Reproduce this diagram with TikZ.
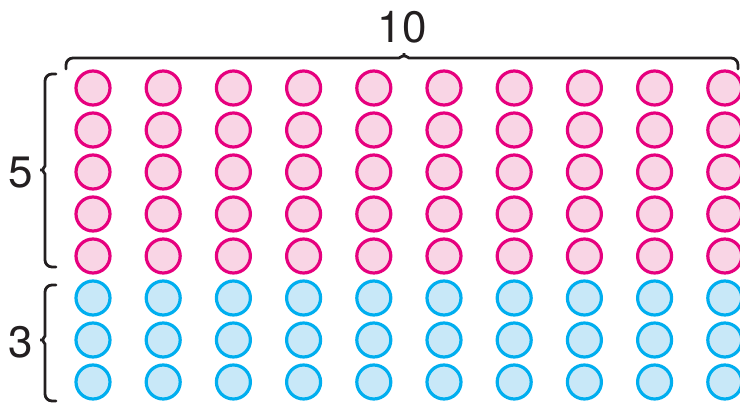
\documentclass[tikz,border=0pt]{standalone}
\usepackage{fontspec}
\setmainfont{TeX Gyre Heros}
\definecolor{pinkline}{HTML}{E6007E}
\definecolor{pinkfill}{HTML}{F9D5E5}
\definecolor{blueline}{HTML}{00AEEF}
\definecolor{bluefill}{HTML}{C8E8F8}
\definecolor{ink}{HTML}{231F20}
\begin{document}
\begin{tikzpicture}[x=1pt,y=-1pt,
  dot/.style={circle,minimum size=34pt,inner sep=0pt,line width=3.2pt},
  pinkdot/.style={dot,draw=pinkline,fill=pinkfill},
  bluedot/.style={dot,draw=blueline,fill=bluefill},
  bracepath/.style={draw=ink,line width=2.8pt,rounded corners=7pt,line cap=round},
  numlabel/.style={text=ink,inner sep=0pt,font=\fontsize{44}{44}\selectfont,anchor=base}]
\useasboundingbox (0,0) rectangle (740,403);
\foreach \i in {0,...,9}{
  \foreach \j in {0,...,4}{
    \node[pinkdot] (c-\i-\j) at ({93+70.2*\i},{88+42*\j}) {};
  }
  \foreach \j in {5,6,7}{
    \node[bluedot] (c-\i-\j) at ({93+70.2*\i},{88+42*\j}) {};
  }
}
% top brace
\path[bracepath] (66,69) -- (66,58) -- (392,58) .. controls (399,58) and (404,55) .. (404,49)
  .. controls (404,55) and (409,58) .. (416,58) -- (738,58) -- (738,69);
% left brace 5
\path[bracepath] (56,74) -- (45,74) -- (45,159) .. controls (45,166) and (42,170) .. (36,170)
  .. controls (42,170) and (45,174) .. (45,181) -- (45,267) -- (56,267);
% left brace 3
\path[bracepath] (56,285) -- (45,285) -- (45,329) .. controls (45,336) and (42,340) .. (36,340)
  .. controls (42,340) and (45,344) .. (45,351) -- (45,401) -- (56,401);
\node[numlabel] (ten) at (402,43) {10};
\node[numlabel] (five) at (21,188) {5};
\node[numlabel] (three) at (21,358) {3};
\end{tikzpicture}
\end{document}
